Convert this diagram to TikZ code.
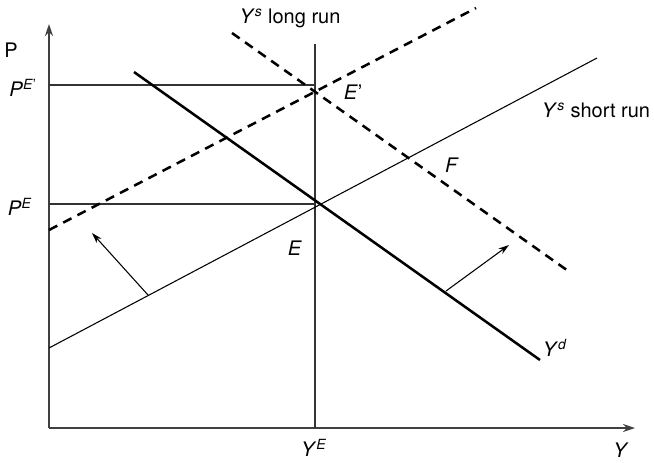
\documentclass[tikz,border=0pt]{standalone}
\usepackage{fontspec}
\setmainfont{TeX Gyre Heros}
\usetikzlibrary{arrows.meta}

\begin{document}
\begin{tikzpicture}[x=0.75pt, y=-0.75pt, >={Stealth[length=9pt, width=6pt]},
  every node/.style={font=\fontsize{15}{18}\selectfont, inner sep=1pt},
  axis/.style={line width=1.1pt, black!75},
  guide/.style={line width=0.8pt, black!80},
  curve/.style={line width=1.9pt},
  newcurve/.style={line width=1.9pt, dash pattern=on 7pt off 5pt},
  shiftarrow/.style={line width=0.8pt, ->, >={Stealth[length=8pt, width=5pt]}}]
  \useasboundingbox (0,0) rectangle (654,462);

  % axes
  \coordinate (O) at (49,428);
  \coordinate (Ptop) at (49,24);
  \coordinate (Yend) at (635,428);
  \draw[axis, ->] (O) -- (Ptop);
  \draw[axis, ->] (O) -- (Yend);
  \node (Plabel) at (11,50) {P};
  \node (Ylabel) at (621,450) {\textit{Y}};

  % equilibrium guides
  \coordinate (YE) at (315,428);
  \coordinate (YEtop) at (315,44);
  \coordinate (PE) at (49,204);
  \coordinate (E) at (315,204);
  \coordinate (PEp) at (49,85);
  \coordinate (Ep) at (315,85);
  \draw[guide] (YE) -- (YEtop);
  \draw[guide] (PE) -- (E);
  \draw[guide] (PEp) -- (Ep);
  \node (YElabel) at (314,448) {\textit{Y}\textsuperscript{\textit{E}}};
  \node (PElabel) at (20,207) {\textit{P}\textsuperscript{\textit{E}}};
  \node (PEplabel) at (23,88) {\textit{P}\textsuperscript{\textit{E}'}};

  % short run supply
  \coordinate (SRa) at (49,348);
  \coordinate (SRb) at (597,58);
  \draw[guide, black] (SRa) -- (SRb);
  \node (SRlabel) at (596,110) {\textit{Y}\textsuperscript{\textit{s}} short run};

  % long run supply (shifted)
  \coordinate (LRa) at (49,230);
  \coordinate (LRb) at (476,8);
  \draw[newcurve] (LRa) -- (LRb);
  \node (LRlabel) at (290,18) {\textit{Y}\textsuperscript{\textit{s}} long run};

  % demand
  \coordinate (Da) at (134,72);
  \coordinate (Db) at (540,360);
  \draw[curve] (Da) -- (Db);
  \node (Dlabel) at (555,348) {\textit{Y}\textsuperscript{\textit{d}}};

  % demand (shifted)
  \coordinate (DDa) at (232,33);
  \coordinate (DDb) at (571,273);
  \draw[newcurve] (DDa) -- (DDb);

  % points
  \node (Elabel) at (295,248) {\textit{E}};
  \node (Eplabel) at (353,92) {\textit{E}'};
  \node (Flabel) at (452,165) {\textit{F}};

  % shifts
  \coordinate (s1) at (148,295);
  \coordinate (s1t) at (92,233);
  \coordinate (s2) at (446,291);
  \coordinate (s2t) at (509,245);
  \draw[shiftarrow] (s1) -- (s1t);
  \draw[shiftarrow] (s2) -- (s2t);
\end{tikzpicture}
\end{document}
